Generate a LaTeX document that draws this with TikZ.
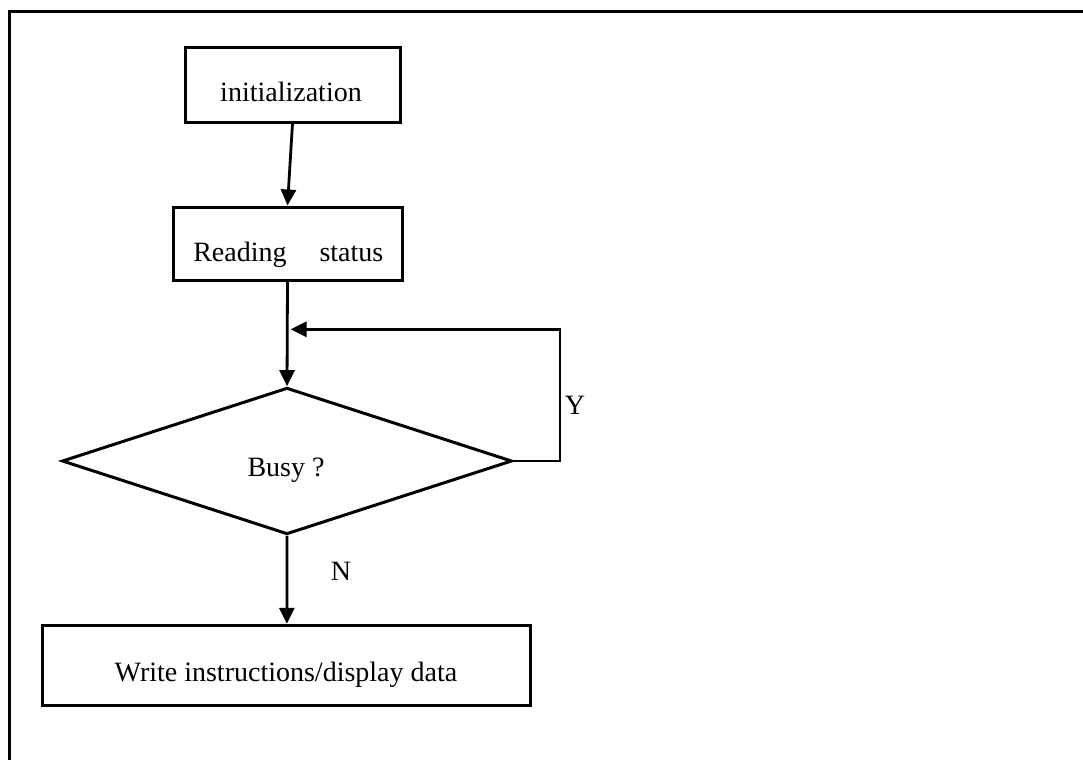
\documentclass[tikz,border=0pt]{standalone}
\usepackage{fontspec}
\setmainfont{Liberation Serif}
\usetikzlibrary{arrows.meta,shapes.geometric}
\begin{document}
\begin{tikzpicture}[x=1pt,y=-1pt,
  every node/.style={font=\fontsize{28}{33}\selectfont},
  boxnode/.style={draw,line width=3pt,rectangle,inner sep=0pt},
  txt/.style={anchor=base,inner sep=0pt},
  conn/.style={line width=2.8pt,-{Triangle[length=16pt,width=15pt]}}]
\useasboundingbox (0,0) rectangle (1083,760);
% frame (top and left sides only)
\draw[line width=3.2pt] (1083,11.5) -- (9.5,11.5) -- (9.5,760);
% boxes
\node[boxnode,minimum width=215pt,minimum height=74pt] (init) at (292.5,85) {};
\node[txt] (initT) at (291,101.7) {initialization};
\node[boxnode,minimum width=229pt,minimum height=73pt] (read) at (287.5,243.5) {};
\node[txt] (readT) at (288.3,261) {Reading\hspace{33pt}status};
\node[draw,line width=3pt,diamond,inner sep=0pt,minimum width=450pt,minimum height=146.6pt] (busy) at (287,461) {};
\node[txt] (busyT) at (286,476.7) {Busy ?};
\node[boxnode,minimum width=488pt,minimum height=80pt] (write) at (286.9,665.3) {};
\node[txt] (writeT) at (286,681) {Write instructions/display data};
% labels
\node[txt] (Y) at (575,414) {Y};
\node[txt] (N) at (341,580) {N};
% connectors
\coordinate (loopin) at (290.5,329.3);
\draw[conn] (init.south) -- (read.north);
\draw[conn] (read.south) -- (busy.north);
\draw[conn] (busy.east) -- (560,461) -- (560,329.3) -- (loopin);
\draw[conn] (busy.south) -- (write.north);
\end{tikzpicture}
\end{document}
